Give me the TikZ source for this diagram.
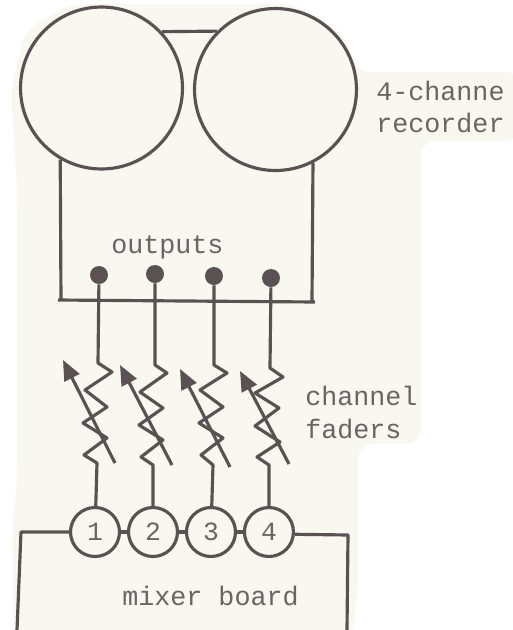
\documentclass[tikz,border=0pt]{standalone}
\usepackage{xcolor}
\usepackage{fontspec}
\setmonofont{Liberation Mono}
\usetikzlibrary{arrows.meta,positioning}
\definecolor{paper}{HTML}{F8F7F0}
\definecolor{ink}{HTML}{5A5252}
\definecolor{inktext}{HTML}{6A6464}
\tikzset{
    reel/.style={circle, draw=ink, line width=1.8pt, inner sep=0pt, minimum size=3.24cm},
    jack/.style={circle, fill=ink, inner sep=0pt, minimum size=0.36cm},
    channel/.style={circle, draw=ink, line width=1.8pt, fill=paper, inner sep=0pt, minimum size=0.98cm, text=inktext, font=\ttfamily\fontsize{15}{18}\selectfont},
    wire/.style={draw=ink, line width=1.8pt, line join=round},
    slider/.style={draw=ink, line width=1.8pt, ->},
    label/.style={anchor=base west, inner sep=0pt, text=inktext, font=\ttfamily\fontsize{15.2}{18}\selectfont}
}
\begin{document}
\begin{tikzpicture}[x=0.02cm, y=-0.02cm, >={Stealth[length=0.4cm, width=0.33cm, inset=0pt]}, node distance=1.16cm]
    \useasboundingbox (0,0) rectangle (513,630);
    % backing sheet
    \fill[paper, rounded corners=0.3cm] (70,4) -- (295,4) -- (345,35) -- (357,72) -- (520,72) -- (520,141)
        -- (421,141) -- (421,444) -- (358,444) -- (358,590) -- (352,640) -- (14,640) -- (12,530) -- (17,480) -- (17,190) -- (11,90) -- (25,30) -- cycle;

    % recorder
    \node[reel] (reelL) at (101.5,88) {};
    \node[reel] (reelR) at (275.5,89.5) {};
    \coordinate (busL) at (58,300);
    \coordinate (busR) at (315,302);
    \coordinate (dropL) at (61,300);
    \coordinate (dropR) at (312,302);
    \draw[wire] (reelL.43) -- (reelR.135);
    \draw[wire] (reelL.240) -- (dropL);
    \draw[wire] (reelR.297) -- (dropR);
    \draw[wire] (busL) -- (busR);

    % outputs
    \node[jack] (out1) at (99,275) {};
    \node[jack] (out2) at (155,274) {};
    \node[jack] (out3) at (214,276) {};
    \node[jack] (out4) at (271,278) {};

    % mixer
    \node[channel] (ch1) at (95,532) {1};
    \node[channel, right of=ch1] (ch2) {2};
    \node[channel, right of=ch2] (ch3) {3};
    \node[channel, right of=ch3] (ch4) {4};
    \coordinate (mixTL) at (21,532);
    \coordinate (mixBL) at (17,630);
    \coordinate (mixTR) at (348,535);
    \coordinate (mixBR) at (347,630);
    \draw[wire] (mixBL) -- (mixTL) -- (ch1);
    \draw[wire] (ch1) -- (ch2);
    \draw[wire] (ch2) -- (ch3);
    \draw[wire] (ch3) -- (ch4);
    \draw[wire] (ch4.-5) -- (mixTR) -- (mixBR);

    % faders
    \draw[wire] (out1) -- (98,363) -- (112,372) -- (85,390) -- (107,407) -- (83,423) -- (107,438) -- (84,455) -- (97,463) -- (ch1);
    \draw[wire] (out2) -- (155,365) -- (167,373) -- (140,392) -- (163,408) -- (139,425) -- (163,440) -- (141,457) -- (153,465) -- (ch2);
    \draw[wire] (out3) -- (214,365) -- (227,373) -- (200,390) -- (223,407) -- (199,423) -- (223,438) -- (201,455) -- (213,465) -- (ch3);
    \draw[wire] (out4) -- (270,368) -- (283,377) -- (255,393) -- (279,408) -- (255,426) -- (280,442) -- (257,457) -- (269,465) -- (ch4);

    \coordinate (tail1) at (115,463);
    \coordinate (tip1) at (63,360);
    \coordinate (tail2) at (172,465);
    \coordinate (tip2) at (120,365);
    \coordinate (tail3) at (230,467);
    \coordinate (tip3) at (180,369);
    \coordinate (tail4) at (289,464);
    \coordinate (tip4) at (240,371);
    \draw[slider] (tail1) -- (tip1);
    \draw[slider] (tail2) -- (tip2);
    \draw[slider] (tail3) -- (tip3);
    \draw[slider] (tail4) -- (tip4);

    % labels
    \node[label] (recA) at (376,100) {4-channe};
    \node[label] (recB) at (376,132) {recorder};
    \node[label] (outLabel) at (111,253) {outputs};
    \node[label] (fadeA) at (305,405) {channel};
    \node[label] (fadeB) at (305,438) {faders};
    \node[label] (mixLabel) at (122,605) {mixer board};
\end{tikzpicture}
\end{document}
